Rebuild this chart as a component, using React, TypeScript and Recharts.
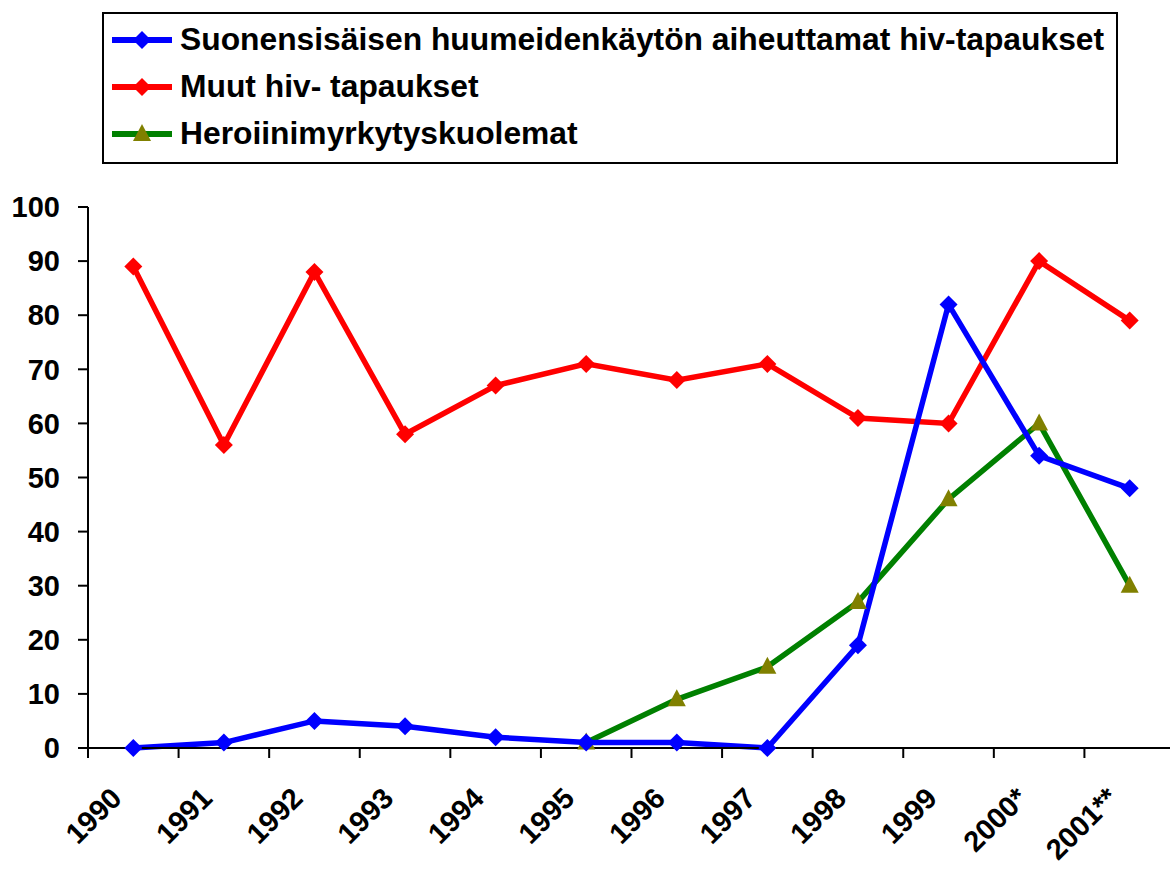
import { LineChart, Line, XAxis, YAxis, Legend } from "recharts";

// categories (x axis)
const years = ["1990", "1991", "1992", "1993", "1994", "1995", "1996", "1997", "1998", "1999", "2000*", "2001**"];

// series values
const ivDrugHiv = [0, 1, 5, 4, 2, 1, 1, 0, 19, 82, 54, 48];
const otherHiv = [89, 56, 88, 58, 67, 71, 68, 71, 61, 60, 90, 79];
const heroinDeaths = [null, null, null, null, null, 1, 9, 15, 27, 46, 60, 30];

const yTicks = [0, 10, 20, 30, 40, 50, 60, 70, 80, 90, 100];

const seriesNames = [
    "Suonensisäisen huumeidenkäytön aiheuttamat hiv-tapaukset",
    "Muut hiv- tapaukset",
    "Heroiinimyrkytyskuolemat",
];

const data = years.map((year, i) => ({
    year,
    ivDrug: ivDrugHiv[i],
    other: otherHiv[i],
    heroin: heroinDeaths[i],
}));

const FONT = "'Liberation Sans', Arial, sans-serif";
const HALF_BAND = 1087 / 12 / 2;

const Diamond = ({ cx, cy, fill }: any) => {
    if (cx == null || cy == null || isNaN(cy)) return null;
    const r = 9;
    return (
        <path
            d={`M${cx},${cy - r} L${cx + r},${cy} L${cx},${cy + r} L${cx - r},${cy} Z`}
            fill={fill}
        />
    );
};

const Triangle = ({ cx, cy }: any) => {
    if (cx == null || cy == null || isNaN(cy)) return null;
    return (
        <path
            d={`M${cx},${cy - 10} L${cx + 9},${cy + 7} L${cx - 9},${cy + 7} Z`}
            fill="#808000"
        />
    );
};

// tick marks sit on category boundaries, labels rotated
const YearTick = ({ x, y, payload }: any) => (
    <g>
        <line
            x1={x - HALF_BAND}
            y1={y}
            x2={x - HALF_BAND}
            y2={y + 10}
            stroke="#000"
            strokeWidth={2}
        />
        <text
            transform={`translate(${x - 10},${y + 52}) rotate(-45)`}
            textAnchor="end"
            fontFamily={FONT}
            fontWeight="bold"
            fontSize={29}
            fill="#000"
        >
            {payload.value}
        </text>
    </g>
);

const legendItems = [
    { name: seriesNames[0], color: "#0000FF", marker: "diamond" },
    { name: seriesNames[1], color: "#FF0000", marker: "diamond" },
    { name: seriesNames[2], color: "#008000", marker: "triangle" },
];

const LegendBox = () => (
    <div
        style={{
            width: 1012,
            height: 146,
            border: "2px solid #000",
            background: "#fff",
            boxSizing: "content-box",
            paddingTop: 2,
        }}
    >
        {legendItems.map((item) => (
            <div
                key={item.name}
                style={{
                    display: "flex",
                    alignItems: "center",
                    height: 47,
                }}
            >
                <svg width={76} height={30} style={{ flex: "none" }}>
                    <line x1={8} y1={15} x2={68} y2={15} stroke={item.color} strokeWidth={6} />
                    {item.marker === "diamond" ? (
                        <Diamond cx={38} cy={15} fill={item.color} />
                    ) : (
                        <Triangle cx={38} cy={15} />
                    )}
                </svg>
                <span
                    style={{
                        fontFamily: FONT,
                        fontWeight: "bold",
                        fontSize: 31.8,
                        color: "#000",
                        whiteSpace: "nowrap",
                    }}
                >
                    {item.name}
                </span>
            </div>
        ))}
    </div>
);

export default function App() {
    return (
        <div
            style={{
                position: "absolute",
                left: 0,
                top: 0,
                width: 1170,
                height: 872,
                overflow: "hidden",
                background: "#fff",
            }}
        >
            <LineChart
                width={1176}
                height={872}
                data={data}
                margin={{ top: 207, right: 1, left: 0, bottom: 0 }}
            >
                <XAxis
                    dataKey="year"
                    scale="band"
                    height={124}
                    axisLine={{ stroke: "#000", strokeWidth: 2 }}
                    tickLine={false}
                    tickSize={0}
                    tickMargin={0}
                    interval={0}
                    tick={<YearTick />}
                />
                <YAxis
                    width={88}
                    domain={[0, 100]}
                    ticks={yTicks}
                    interval={0}
                    axisLine={{ stroke: "#000", strokeWidth: 2 }}
                    tickLine={{ stroke: "#000", strokeWidth: 2 }}
                    tickSize={10}
                    tickMargin={18}
                    tick={{ fill: "#000", fontSize: 29, fontWeight: "bold", fontFamily: FONT }}
                />
                <Legend
                    layout="vertical"
                    align="center"
                    verticalAlign="middle"
                    wrapperStyle={{ position: "absolute", top: 12, left: 102, width: "auto" }}
                    content={() => <LegendBox />}
                />
                <Line
                    type="linear"
                    dataKey="other"
                    name={seriesNames[1]}
                    stroke="#FF0000"
                    strokeWidth={5.5}
                    dot={(p: any) => <Diamond key={p.index} cx={p.cx} cy={p.cy} fill="#FF0000" />}
                    activeDot={false}
                    isAnimationActive={false}
                />
                <Line
                    type="linear"
                    dataKey="heroin"
                    name={seriesNames[2]}
                    stroke="#008000"
                    strokeWidth={5.5}
                    dot={(p: any) => <Triangle key={p.index} cx={p.cx} cy={p.cy} />}
                    activeDot={false}
                    isAnimationActive={false}
                />
                <Line
                    type="linear"
                    dataKey="ivDrug"
                    name={seriesNames[0]}
                    stroke="#0000FF"
                    strokeWidth={5.5}
                    dot={(p: any) => <Diamond key={p.index} cx={p.cx} cy={p.cy} fill="#0000FF" />}
                    activeDot={false}
                    isAnimationActive={false}
                />
            </LineChart>
        </div>
    );
}
